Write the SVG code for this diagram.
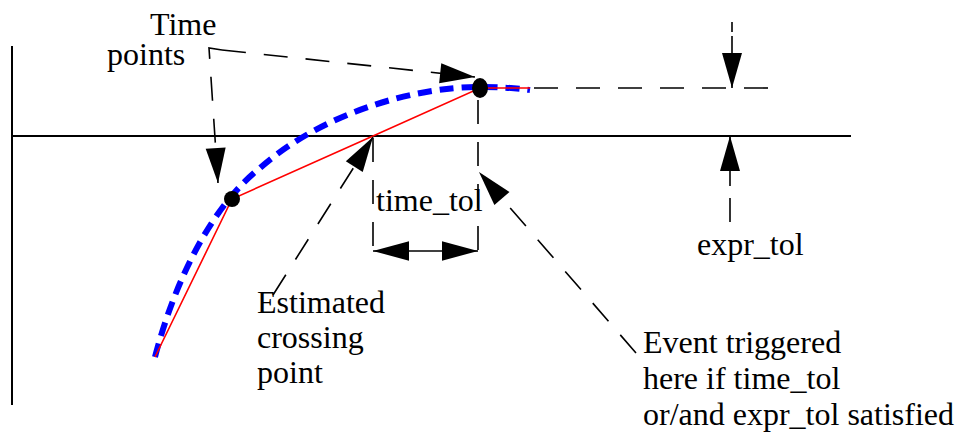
<svg xmlns="http://www.w3.org/2000/svg" width="958" height="433" viewBox="0 0 958 433">
<style>
.axis{stroke:#000;stroke-width:2;fill:none}
.dash{stroke:#000;stroke-width:1.6;fill:none;stroke-dasharray:24 18}
.solid{stroke:#000;stroke-width:1.6;fill:none}
.red{stroke:#ff0000;stroke-width:1.6;fill:none}
.blue{stroke:#0000ff;stroke-width:6;fill:none;stroke-dasharray:14 8}
text{font-family:"Liberation Serif","Times New Roman",serif;font-size:32px;fill:#000}
</style>
<defs>
<marker id="ah" markerUnits="userSpaceOnUse" orient="auto" markerWidth="40" markerHeight="24" viewBox="-36 -12 40 24" refX="0" refY="0">
<path d="M0,0 L-35,-10 L-35,10 Z" fill="#000"/>
</marker>
<marker id="ahs" markerUnits="userSpaceOnUse" orient="auto-start-reverse" markerWidth="40" markerHeight="24" viewBox="-36 -12 40 24" refX="0" refY="0">
<path d="M0,0 L-37,-10 L-37,10 Z" fill="#000"/>
</marker>
</defs>
<g id="axes">
<line class="axis" x1="12" y1="46" x2="12" y2="405"/>
<line class="axis" x1="12" y1="136" x2="851" y2="136"/>
</g>
<g id="curve">
<path class="blue" d="M155,357 C175,280 212,206 260,168 C320,115 410,87 480,87 C500,87 515,88 530,90"/>
<polyline class="red" points="155,357 232,199 373,136 480,88 530,88"/>
<circle cx="232" cy="199" r="8" fill="#000"/>
<ellipse cx="480" cy="88" rx="8" ry="10" fill="#000"/>
</g>
<g id="connectors">
<polyline class="dash" points="222,50 209,48 218,183" marker-end="url(#ah)"/>
<line class="dash" x1="222" y1="50" x2="475" y2="77" marker-end="url(#ah)"/>
<line class="dash" x1="534" y1="88" x2="776" y2="88"/>
<line class="dash" x1="373" y1="138" x2="373" y2="262"/>
<line class="dash" x1="478" y1="100" x2="478" y2="262"/>
<line class="solid" x1="373" y1="251" x2="478" y2="251" marker-start="url(#ahs)" marker-end="url(#ahs)"/>
<line class="dash" x1="273" y1="295" x2="373" y2="137" marker-end="url(#ah)"/>
<line class="dash" x1="636" y1="353" x2="479" y2="172" marker-end="url(#ah)"/>
<line class="solid" x1="732" y1="22" x2="732" y2="88" stroke-dasharray="10 4 60" marker-end="url(#ah)"/>
<line class="solid" x1="730" y1="186" x2="730" y2="136" marker-end="url(#ah)"/>
<line class="dash" x1="730" y1="198" x2="730" y2="232" stroke-dasharray="14 18"/>
</g>
<g id="labels">
<text x="150" y="35">Time</text>
<text x="107" y="65">points</text>
<text x="376" y="211">time_tol</text>
<text x="697" y="255">expr_tol</text>
<text x="257" y="313">Estimated</text>
<text x="257" y="348">crossing</text>
<text x="257" y="383">point</text>
<text x="643" y="353">Event triggered</text>
<text x="643" y="389">here if time_tol</text>
<text x="643" y="425">or/and expr_tol satisfied</text>
</g>
</svg>
